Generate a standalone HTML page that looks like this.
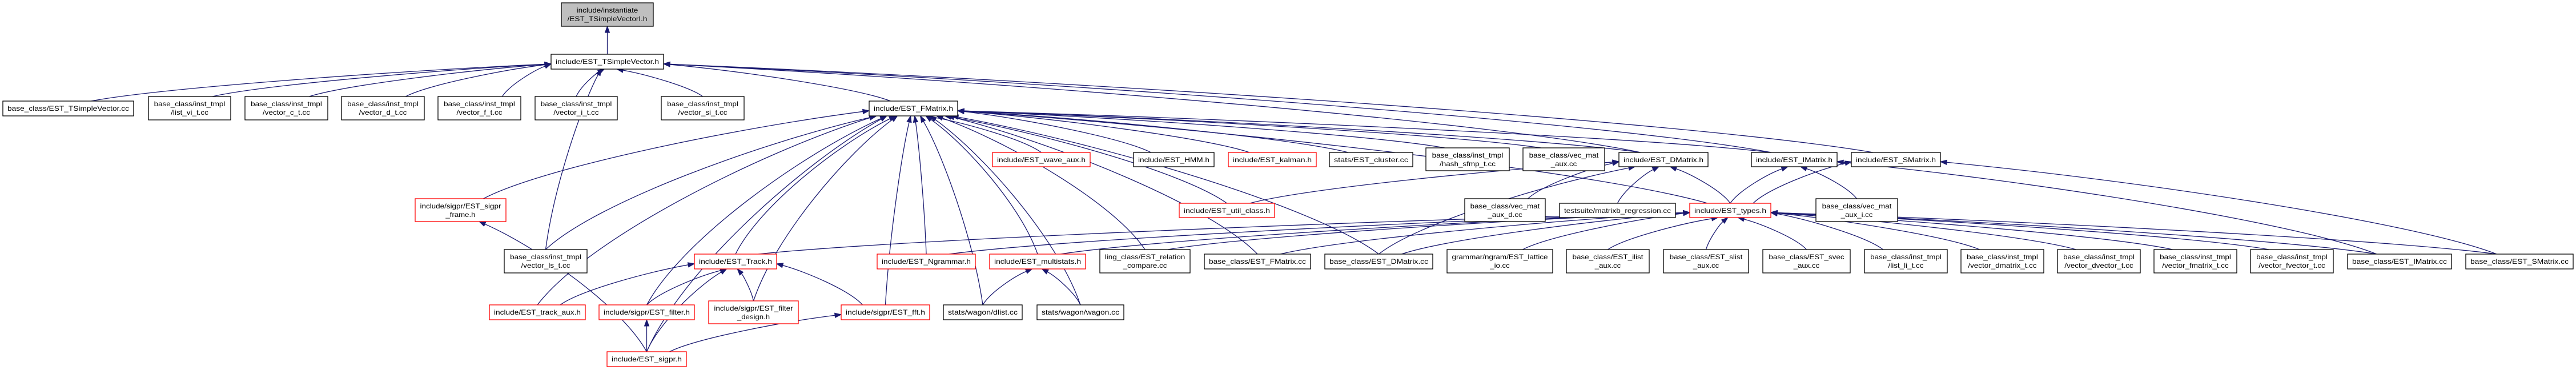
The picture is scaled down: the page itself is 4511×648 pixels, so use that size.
<!DOCTYPE html>
<html><head><meta charset="utf-8"><style>
html,body{margin:0;padding:0;background:#fff;}
svg{display:block;}
text{font-family:"Liberation Sans",Arial,sans-serif;font-size:12px;fill:#000;}
</style></head><body>
<svg id="s" width="4511" height="648" viewBox="0 0 4511 648" xmlns="http://www.w3.org/2000/svg">
<g id="edges" fill="none" stroke="#191970" stroke-width="1.3"></g>
<g id="arrows" fill="#191970" stroke="#191970"></g>
<g id="nodes" stroke-width="1.3">
<g id="top"><rect x="983" y="5" width="161" height="41" fill="#bfbfbf" stroke="#000"/><text x="1063.5" y="22" text-anchor="middle">include/instantiate</text><text x="1063.5" y="37" text-anchor="middle">/EST_TSimpleVectorI.h</text></g>
<g id="tsv"><rect x="965" y="95" width="197" height="26" fill="#fff" stroke="#000"/><text x="1063.5" y="112" text-anchor="middle">include/EST_TSimpleVector.h</text></g>
<g id="tsvcc"><rect x="5" y="177" width="229" height="26" fill="#fff" stroke="#000"/><text x="119.5" y="194" text-anchor="middle">base_class/EST_TSimpleVector.cc</text></g>
<g id="lvi"><rect x="260" y="169" width="144" height="41" fill="#fff" stroke="#000"/><text x="332" y="186" text-anchor="middle">base_class/inst_tmpl</text><text x="332" y="201" text-anchor="middle">/list_vi_t.cc</text></g>
<g id="vc"><rect x="429" y="169" width="145" height="41" fill="#fff" stroke="#000"/><text x="501.5" y="186" text-anchor="middle">base_class/inst_tmpl</text><text x="501.5" y="201" text-anchor="middle">/vector_c_t.cc</text></g>
<g id="vd"><rect x="598" y="169" width="145" height="41" fill="#fff" stroke="#000"/><text x="670.5" y="186" text-anchor="middle">base_class/inst_tmpl</text><text x="670.5" y="201" text-anchor="middle">/vector_d_t.cc</text></g>
<g id="vf"><rect x="767" y="169" width="145" height="41" fill="#fff" stroke="#000"/><text x="839.5" y="186" text-anchor="middle">base_class/inst_tmpl</text><text x="839.5" y="201" text-anchor="middle">/vector_f_t.cc</text></g>
<g id="vi"><rect x="937" y="169" width="144" height="41" fill="#fff" stroke="#000"/><text x="1009" y="186" text-anchor="middle">base_class/inst_tmpl</text><text x="1009" y="201" text-anchor="middle">/vector_i_t.cc</text></g>
<g id="vsi"><rect x="1158" y="169" width="145" height="41" fill="#fff" stroke="#000"/><text x="1230.5" y="186" text-anchor="middle">base_class/inst_tmpl</text><text x="1230.5" y="201" text-anchor="middle">/vector_si_t.cc</text></g>
<g id="fm"><rect x="1522" y="177" width="155" height="26" fill="#fff" stroke="#000"/><text x="1599.5" y="194" text-anchor="middle">include/EST_FMatrix.h</text></g>
<g id="wave"><rect x="1738" y="267" width="171" height="25" fill="#fff" stroke="red"/><text x="1823.5" y="284" text-anchor="middle">include/EST_wave_aux.h</text></g>
<g id="hmm"><rect x="1985" y="267" width="141" height="25" fill="#fff" stroke="#000"/><text x="2055.5" y="284" text-anchor="middle">include/EST_HMM.h</text></g>
<g id="kal"><rect x="2151" y="267" width="154" height="25" fill="#fff" stroke="red"/><text x="2228" y="284" text-anchor="middle">include/EST_kalman.h</text></g>
<g id="clu"><rect x="2328" y="267" width="146" height="25" fill="#fff" stroke="#000"/><text x="2401" y="284" text-anchor="middle">stats/EST_cluster.cc</text></g>
<g id="hash"><rect x="2497" y="259" width="146" height="40" fill="#fff" stroke="#000"/><text x="2570" y="276" text-anchor="middle">base_class/inst_tmpl</text><text x="2570" y="291" text-anchor="middle">/hash_sfmp_t.cc</text></g>
<g id="vma"><rect x="2667" y="259" width="143" height="40" fill="#fff" stroke="#000"/><text x="2738.5" y="276" text-anchor="middle">base_class/vec_mat</text><text x="2738.5" y="291" text-anchor="middle">_aux.cc</text></g>
<g id="dm"><rect x="2835" y="267" width="156" height="25" fill="#fff" stroke="#000"/><text x="2913" y="284" text-anchor="middle">include/EST_DMatrix.h</text></g>
<g id="im"><rect x="3067" y="267" width="150" height="25" fill="#fff" stroke="#000"/><text x="3142" y="284" text-anchor="middle">include/EST_IMatrix.h</text></g>
<g id="sm"><rect x="3242" y="267" width="156" height="25" fill="#fff" stroke="#000"/><text x="3320" y="284" text-anchor="middle">include/EST_SMatrix.h</text></g>
<g id="frame"><rect x="727" y="348" width="159" height="40" fill="#fff" stroke="red"/><text x="806.5" y="365" text-anchor="middle">include/sigpr/EST_sigpr</text><text x="806.5" y="380" text-anchor="middle">_frame.h</text></g>
<g id="vls"><rect x="883" y="437" width="145" height="41" fill="#fff" stroke="#000"/><text x="955.5" y="454" text-anchor="middle">base_class/inst_tmpl</text><text x="955.5" y="469" text-anchor="middle">/vector_ls_t.cc</text></g>
<g id="taux"><rect x="857" y="534" width="168" height="26" fill="#fff" stroke="red"/><text x="941" y="551" text-anchor="middle">include/EST_track_aux.h</text></g>
<g id="filt"><rect x="1049" y="534" width="167" height="26" fill="#fff" stroke="red"/><text x="1132.5" y="551" text-anchor="middle">include/sigpr/EST_filter.h</text></g>
<g id="sigpr"><rect x="1063" y="616" width="139" height="26" fill="#fff" stroke="red"/><text x="1132.5" y="633" text-anchor="middle">include/EST_sigpr.h</text></g>
<g id="util"><rect x="2065" y="356" width="167" height="25" fill="#fff" stroke="red"/><text x="2148.5" y="373" text-anchor="middle">include/EST_util_class.h</text></g>
<g id="track"><rect x="1216" y="445" width="144" height="26" fill="#fff" stroke="red"/><text x="1288" y="462" text-anchor="middle">include/EST_Track.h</text></g>
<g id="ngram"><rect x="1536" y="445" width="172" height="26" fill="#fff" stroke="red"/><text x="1622" y="462" text-anchor="middle">include/EST_Ngrammar.h</text></g>
<g id="mstat"><rect x="1733" y="445" width="168" height="26" fill="#fff" stroke="red"/><text x="1817" y="462" text-anchor="middle">include/EST_multistats.h</text></g>
<g id="rel"><rect x="1926" y="437" width="158" height="41" fill="#fff" stroke="#000"/><text x="2005" y="454" text-anchor="middle">ling_class/EST_relation</text><text x="2005" y="469" text-anchor="middle">_compare.cc</text></g>
<g id="fmcc"><rect x="2109" y="445" width="186" height="26" fill="#fff" stroke="#000"/><text x="2202" y="462" text-anchor="middle">base_class/EST_FMatrix.cc</text></g>
<g id="fdes"><rect x="1241" y="527" width="157" height="40" fill="#fff" stroke="red"/><text x="1319.5" y="544" text-anchor="middle">include/sigpr/EST_filter</text><text x="1319.5" y="559" text-anchor="middle">_design.h</text></g>
<g id="fft"><rect x="1473" y="534" width="155" height="26" fill="#fff" stroke="red"/><text x="1550.5" y="551" text-anchor="middle">include/sigpr/EST_fft.h</text></g>
<g id="dlist"><rect x="1652" y="534" width="138" height="26" fill="#fff" stroke="#000"/><text x="1721" y="551" text-anchor="middle">stats/wagon/dlist.cc</text></g>
<g id="wagon"><rect x="1816" y="534" width="152" height="26" fill="#fff" stroke="#000"/><text x="1892" y="551" text-anchor="middle">stats/wagon/wagon.cc</text></g>
<g id="dmcc"><rect x="2320" y="445" width="189" height="26" fill="#fff" stroke="#000"/><text x="2414.5" y="462" text-anchor="middle">base_class/EST_DMatrix.cc</text></g>
<g id="vmad"><rect x="2565" y="348" width="141" height="40" fill="#fff" stroke="#000"/><text x="2635.5" y="365" text-anchor="middle">base_class/vec_mat</text><text x="2635.5" y="380" text-anchor="middle">_aux_d.cc</text></g>
<g id="mreg"><rect x="2731" y="356" width="203" height="25" fill="#fff" stroke="#000"/><text x="2832.5" y="373" text-anchor="middle">testsuite/matrixb_regression.cc</text></g>
<g id="types"><rect x="2959" y="356" width="142" height="25" fill="#fff" stroke="red"/><text x="3030" y="373" text-anchor="middle">include/EST_types.h</text></g>
<g id="vmai"><rect x="3180" y="348" width="143" height="40" fill="#fff" stroke="#000"/><text x="3251.5" y="365" text-anchor="middle">base_class/vec_mat</text><text x="3251.5" y="380" text-anchor="middle">_aux_i.cc</text></g>
<g id="latt"><rect x="2534" y="437" width="185" height="41" fill="#fff" stroke="#000"/><text x="2626.5" y="454" text-anchor="middle">grammar/ngram/EST_lattice</text><text x="2626.5" y="469" text-anchor="middle">_io.cc</text></g>
<g id="ilist"><rect x="2743" y="437" width="145" height="41" fill="#fff" stroke="#000"/><text x="2815.5" y="454" text-anchor="middle">base_class/EST_ilist</text><text x="2815.5" y="469" text-anchor="middle">_aux.cc</text></g>
<g id="slist"><rect x="2913" y="437" width="149" height="41" fill="#fff" stroke="#000"/><text x="2987.5" y="454" text-anchor="middle">base_class/EST_slist</text><text x="2987.5" y="469" text-anchor="middle">_aux.cc</text></g>
<g id="svec"><rect x="3087" y="437" width="153" height="41" fill="#fff" stroke="#000"/><text x="3163.5" y="454" text-anchor="middle">base_class/EST_svec</text><text x="3163.5" y="469" text-anchor="middle">_aux.cc</text></g>
<g id="lli"><rect x="3265" y="437" width="145" height="41" fill="#fff" stroke="#000"/><text x="3337.5" y="454" text-anchor="middle">base_class/inst_tmpl</text><text x="3337.5" y="469" text-anchor="middle">/list_li_t.cc</text></g>
<g id="vdm"><rect x="3434" y="437" width="145" height="41" fill="#fff" stroke="#000"/><text x="3506.5" y="454" text-anchor="middle">base_class/inst_tmpl</text><text x="3506.5" y="469" text-anchor="middle">/vector_dmatrix_t.cc</text></g>
<g id="vdv"><rect x="3603" y="437" width="145" height="41" fill="#fff" stroke="#000"/><text x="3675.5" y="454" text-anchor="middle">base_class/inst_tmpl</text><text x="3675.5" y="469" text-anchor="middle">/vector_dvector_t.cc</text></g>
<g id="vfm"><rect x="3772" y="437" width="145" height="41" fill="#fff" stroke="#000"/><text x="3844.5" y="454" text-anchor="middle">base_class/inst_tmpl</text><text x="3844.5" y="469" text-anchor="middle">/vector_fmatrix_t.cc</text></g>
<g id="vfv"><rect x="3941" y="437" width="145" height="41" fill="#fff" stroke="#000"/><text x="4013.5" y="454" text-anchor="middle">base_class/inst_tmpl</text><text x="4013.5" y="469" text-anchor="middle">/vector_fvector_t.cc</text></g>
<g id="imcc"><rect x="4111" y="445" width="182" height="26" fill="#fff" stroke="#000"/><text x="4202" y="462" text-anchor="middle">base_class/EST_IMatrix.cc</text></g>
<g id="smcc"><rect x="4318" y="445" width="188" height="26" fill="#fff" stroke="#000"/><text x="4412" y="462" text-anchor="middle">base_class/EST_SMatrix.cc</text></g>
</g>
</svg>
<script>
(function(){
var NS="http://www.w3.org/2000/svg";
function box(id){var r=document.querySelector('#'+id+' rect');var x=+r.getAttribute('x'),y=+r.getAttribute('y'),w=+r.getAttribute('width'),h=+r.getAttribute('height');return {x1:x,y1:y,x2:x+w,y2:y+h,cx:x+w/2};}
document.querySelectorAll('#nodes g').forEach(function(g){var b=box(g.id);var ts=g.querySelectorAll('text');ts.forEach(function(t){var L=t.getComputedTextLength();var max=(b.x2-b.x1)-16;var target=ts.length>1?Math.min(max,L*1.12):max;if(t.textContent.length<10)target=Math.min(target,L*1.1);t.setAttribute('textLength',Math.max(8,target));t.setAttribute('lengthAdjust','spacingAndGlyphs');});});
var E={
tsv:['top'],
tsvcc:['tsv'],lvi:['tsv'],vc:['tsv'],vd:['tsv'],vf:['tsv'],vi:['tsv'],vsi:['tsv'],
fm:['tsv'],vls:['tsv','fm'],dm:['tsv','fm'],im:['tsv','fm'],sm:['tsv'],
frame:['fm'],taux:['fm','track'],sigpr:['fm','frame','filt','fft','track'],filt:['fm','track'],track:['fm','types'],
fdes:['fm','track'],fft:['fm','track'],ngram:['fm','types'],mstat:['fm','types'],dlist:['fm','mstat'],wagon:['fm','mstat'],
rel:['fm','types'],fmcc:['fm','types'],wave:['fm'],hmm:['fm'],kal:['fm'],clu:['fm'],hash:['fm'],vma:['fm'],
util:['fm','dm'],types:['fm','dm','im','sm'],dmcc:['fm','dm','types'],vmad:['dm'],mreg:['dm'],vmai:['im'],
latt:['types'],ilist:['types'],slist:['types'],svec:['types'],lli:['types'],vdm:['types'],vdv:['types'],vfm:['types'],vfv:['types'],
imcc:['im','types'],smcc:['sm','types']
};
var eg=document.getElementById('edges'),ag=document.getElementById('arrows');
Object.keys(E).forEach(function(c){var cb=box(c);E[c].forEach(function(p){var pb=box(p);
var sx=cb.cx, sy=cb.y1;
var px=pb.cx+(cb.cx-pb.cx)*0.1; px=Math.max(pb.x1+10,Math.min(pb.x2-10,px));
var py=pb.y2;
var dx=sx-px, dy=sy-py;
if(Math.abs(dx)>dy*3.5){ // enter from side, near-straight line
  py=pb.y1+(pb.y2-pb.y1)*0.65; px=dx>0?pb.x2:pb.x1;
  sx=cb.cx+(dx>0?-1:1)*Math.min(40,(cb.x2-cb.x1)/2-10);
  dx=sx-px; dy=sy-py;
}
var c1x=sx-dx*0.15,c1y=sy-dy*0.35;
var c2x=px+dx*0.35,c2y=py+dy*0.2;
var ax=px-c2x, ay=py-c2y, L=Math.sqrt(ax*ax+ay*ay)||1; ax/=L; ay/=L;
var bx=px-ax*11, by=py-ay*11;
var path=document.createElementNS(NS,'path');
path.setAttribute('d','M'+sx+','+sy+' C'+c1x+','+c1y+' '+c2x+','+c2y+' '+bx+','+by);
eg.appendChild(path);
var nx=-ay,ny=ax;
var poly=document.createElementNS(NS,'polygon');
poly.setAttribute('points',px+','+py+' '+(bx+nx*4)+','+(by+ny*4)+' '+(bx-nx*4)+','+(by-ny*4));
ag.appendChild(poly);
});});
})();
</script>
</body></html>
